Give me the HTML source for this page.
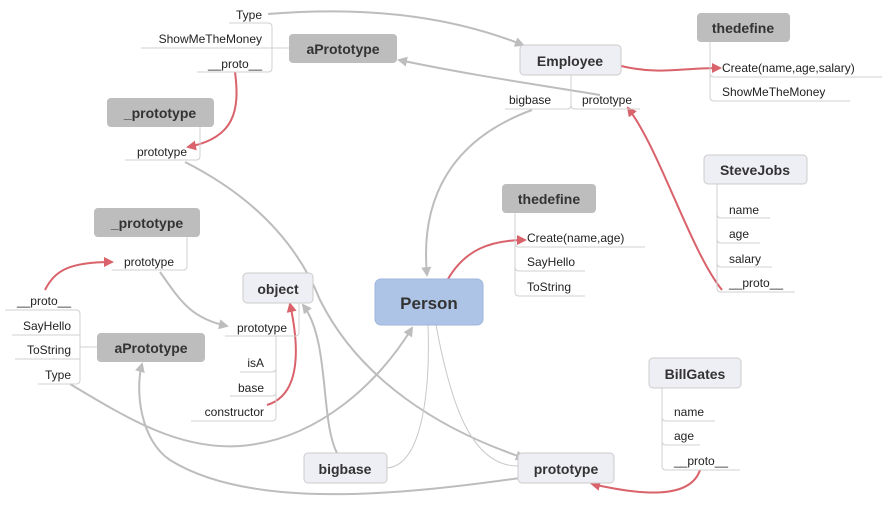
<!DOCTYPE html>
<html><head><meta charset="utf-8"><style>
html,body{margin:0;padding:0;background:#fff;}
svg{display:block;font-family:"Liberation Sans",Arial,sans-serif;}
.l{font-size:12px;fill:#222;}
.b{font-size:14px;font-weight:bold;fill:#333;}
.u{stroke:#d0d0d0;stroke-width:1;fill:none;}
.g{stroke:#bdbdbd;stroke-width:2;fill:none;}
.t{stroke:#c8c8c8;stroke-width:1;fill:none;}
.r{stroke:#d9626b;stroke-width:2;fill:none;}
</style></head><body>
<svg width="885" height="521" viewBox="0 0 885 521">
<defs>
<marker id="ag" markerWidth="10" markerHeight="10" refX="8" refY="5" orient="auto" markerUnits="userSpaceOnUse"><path d="M0,0 L10,5 L0,10 z" fill="#bdbdbd"/></marker>
<marker id="ar" markerWidth="10" markerHeight="10" refX="8" refY="5" orient="auto" markerUnits="userSpaceOnUse"><path d="M0,0 L10,5 L0,10 z" fill="#d9626b"/></marker>
</defs>

<!-- gray connectors -->
<path class="g" d="M268,14 C380,5 460,20 523,45" marker-end="url(#ag)"/>
<path class="g" d="M600,95 C540,85 470,75 399,60" marker-end="url(#ag)"/>
<path class="g" d="M532,110 C450,140 420,200 427,275" marker-end="url(#ag)"/>
<path class="g" d="M185,162 C260,200 300,250 320,300 C360,380 440,430 524,458" marker-end="url(#ag)"/>
<path class="g" d="M160,272 C180,300 190,318 227,326" marker-end="url(#ag)"/>
<path class="g" d="M70,384 C130,420 180,450 240,446 C320,440 380,380 412,328" marker-end="url(#ag)"/>
<path class="g" d="M337,453 C320,420 330,340 303,305" marker-end="url(#ag)"/>
<path class="g" d="M520,478 C400,495 250,510 170,460 C140,440 135,390 142,364" marker-end="url(#ag)"/>
<path class="t" d="M428,325 C430,380 425,465 387,468"/>
<path class="t" d="M436,325 C450,400 470,466 518,466"/>
<!-- red connectors -->
<path class="r" d="M235,72 C240,110 235,138 188,147" marker-end="url(#ar)"/>
<path class="r" d="M45,290 C55,270 70,262 112,262" marker-end="url(#ar)"/>
<path class="r" d="M267,405 C300,395 300,350 290,304" marker-end="url(#ar)"/>
<path class="r" d="M448,279 C465,250 490,240 525,240" marker-end="url(#ar)"/>
<path class="r" d="M621,66 C660,75 680,68 720,68" marker-end="url(#ar)"/>
<path class="r" d="M722,290 C690,250 660,150 628,108" marker-end="url(#ar)"/>
<path class="r" d="M700,470 C690,500 640,495 592,484" marker-end="url(#ar)"/>

<!-- top-left aPrototype children -->
<path class="u" d="M229,23 H268 Q272,23 272,27 V68 Q272,72 268,72 H197 M141,48 H289 M390,48 H397"/>
<text class="l" x="262" y="19" text-anchor="end">Type</text>
<text class="l" x="262" y="43" text-anchor="end">ShowMeTheMoney</text>
<text class="l" x="262" y="68" text-anchor="end">__proto__</text>
<rect x="289" y="34" width="108" height="29" rx="4" fill="#bdbdbd"/>
<text class="b" x="343" y="54" text-anchor="middle">aPrototype</text>

<!-- _prototype top -->
<path class="u" d="M200,127 V156 Q200,160 196,160 H125"/>
<rect x="107" y="98" width="107" height="29" rx="4" fill="#bdbdbd"/>
<text class="b" x="160" y="118" text-anchor="middle">_prototype</text>
<text class="l" x="187" y="156" text-anchor="end">prototype</text>

<!-- _prototype left -->
<path class="u" d="M187,237 V266 Q187,270 183,270 H112"/>
<rect x="94" y="208" width="106" height="29" rx="4" fill="#bdbdbd"/>
<text class="b" x="147" y="228" text-anchor="middle">_prototype</text>
<text class="l" x="174" y="266" text-anchor="end">prototype</text>

<!-- aPrototype left -->
<path class="u" d="M5,310 H76 Q80,310 80,314 V380 Q80,384 76,384 H38 M12,335 H80 M15,359 H80 M80,347 H97 M200,347 H205"/>
<text class="l" x="71" y="305" text-anchor="end">__proto__</text>
<text class="l" x="71" y="330" text-anchor="end">SayHello</text>
<text class="l" x="71" y="354" text-anchor="end">ToString</text>
<text class="l" x="71" y="379" text-anchor="end">Type</text>
<rect x="97" y="333" width="108" height="29" rx="4" fill="#bdbdbd"/>
<text class="b" x="151" y="353" text-anchor="middle">aPrototype</text>

<!-- object -->
<path class="u" d="M299,303 V332 Q299,336 295,336 H225 M276,336 V368 Q276,372 272,372 H240 M276,370 V392 Q276,396 272,396 H230 M276,394 V417 Q276,421 272,421 H191"/>
<rect x="243" y="273" width="70" height="30" rx="4" fill="#eeeef5" stroke="#ccc"/>
<text class="b" x="278" y="294" text-anchor="middle">object</text>
<text class="l" x="287" y="332" text-anchor="end">prototype</text>
<text class="l" x="264" y="367" text-anchor="end">isA</text>
<text class="l" x="264" y="392" text-anchor="end">base</text>
<text class="l" x="264" y="416" text-anchor="end">constructor</text>

<!-- Employee -->
<path class="u" d="M571,75 V105 Q571,109 567,109 H505 M571,105 Q571,109 575,109 H640"/>
<rect x="520" y="45" width="101" height="30" rx="4" fill="#eeeef5" stroke="#ccc"/>
<text class="b" x="570" y="66" text-anchor="middle">Employee</text>
<text class="l" x="509" y="104">bigbase</text>
<text class="l" x="582" y="104">prototype</text>

<!-- thedefine top -->
<path class="u" d="M710,42 V97 Q710,101 714,101 H850 M710,73 Q710,77 714,77 H882"/>
<rect x="697" y="13" width="93" height="29" rx="4" fill="#bdbdbd"/>
<text class="b" x="743" y="33" text-anchor="middle">thedefine</text>
<text class="l" x="722" y="72">Create(name,age,salary)</text>
<text class="l" x="722" y="96">ShowMeTheMoney</text>

<!-- thedefine mid -->
<path class="u" d="M515,213 V292 Q515,296 519,296 H585 M515,243 Q515,247 519,247 H645 M515,267 Q515,271 519,271 H585"/>
<rect x="502" y="184" width="94" height="29" rx="4" fill="#bdbdbd"/>
<text class="b" x="549" y="204" text-anchor="middle">thedefine</text>
<text class="l" x="527" y="242">Create(name,age)</text>
<text class="l" x="527" y="266">SayHello</text>
<text class="l" x="527" y="291">ToString</text>

<!-- SteveJobs -->
<path class="u" d="M717,184 V288 Q717,292 721,292 H795 M717,214 Q717,218 721,218 H770 M717,239 Q717,243 721,243 H760 M717,263 Q717,267 721,267 H772"/>
<rect x="704" y="155" width="103" height="29" rx="4" fill="#eeeef5" stroke="#ccc"/>
<text class="b" x="755" y="175" text-anchor="middle">SteveJobs</text>
<text class="l" x="729" y="214">name</text>
<text class="l" x="729" y="238">age</text>
<text class="l" x="729" y="263">salary</text>
<text class="l" x="729" y="287">__proto__</text>

<!-- BillGates -->
<path class="u" d="M662,388 V466 Q662,470 666,470 H740 M662,417 Q662,421 666,421 H715 M662,441 Q662,445 666,445 H700"/>
<rect x="649" y="358" width="92" height="30" rx="4" fill="#eeeef5" stroke="#ccc"/>
<text class="b" x="695" y="379" text-anchor="middle">BillGates</text>
<text class="l" x="674" y="416">name</text>
<text class="l" x="674" y="440">age</text>
<text class="l" x="674" y="465">__proto__</text>

<!-- bigbase, prototype bottom -->
<rect x="304" y="453" width="83" height="30" rx="4" fill="#eeeef5" stroke="#ccc"/>
<text class="b" x="345" y="474" text-anchor="middle">bigbase</text>
<rect x="518" y="453" width="96" height="30" rx="4" fill="#eeeef5" stroke="#ccc"/>
<text class="b" x="566" y="474" text-anchor="middle">prototype</text>

<!-- Person -->
<rect x="375" y="279" width="108" height="46" rx="6" fill="#aec4e6" stroke="#9fb6dc"/>
<text x="429" y="309" text-anchor="middle" style="font-size:17px;font-weight:bold;fill:#333">Person</text>
</svg>
</body></html>
